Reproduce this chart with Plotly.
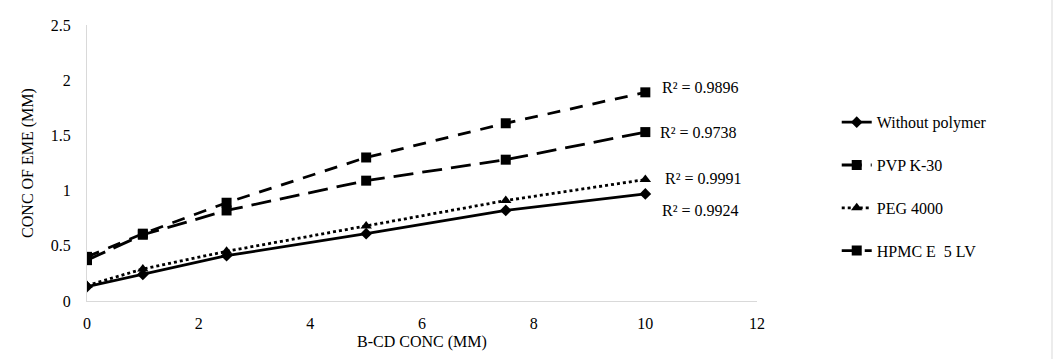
import plotly.graph_objects as go

x_conc = [0, 1, 2.5, 5, 7.5, 10]
without_polymer = [0.13, 0.24, 0.41, 0.61, 0.82, 0.97]
pvp_k30 = [0.37, 0.60, 0.82, 1.09, 1.28, 1.53]
peg_4000 = [0.14, 0.29, 0.45, 0.68, 0.91, 1.10]
hpmc_e5lv = [0.40, 0.61, 0.89, 1.30, 1.61, 1.89]

series_names = ["Without polymer", "PVP K-30", "PEG 4000", "HPMC E  5 LV"]
r2_labels = ["R² = 0.9924", "R² = 0.9738", "R² = 0.9991", "R² = 0.9896"]
r2_y = [0.82, 1.53, 1.11, 1.93]
r2_x = [10.26, 10.22, 10.32, 10.26]

FONT = "Liberation Serif"
series = [without_polymer, pvp_k30, peg_4000, hpmc_e5lv]
dashes = ["solid", "20px,9px", "3px,3px", "13px,10px"]
symbols = ["diamond", "square", "triangle-up", "square"]
msizes = [9, 10, 10, 10]

fig = go.Figure()
for i, (name, ys) in enumerate(zip(series_names, series)):
    fig.add_trace(go.Scatter(
        x=x_conc, y=ys, name=name, mode="lines+markers",
        legendgroup=f"g{i}",
        line=dict(color="black", width=2.8, dash=dashes[i]),
        marker=dict(symbol=symbols[i], size=msizes[i], color="black"),
    ))

for t, xx, yy in zip(r2_labels, r2_x, r2_y):
    fig.add_annotation(x=xx, y=yy, text=t, xref="x", yref="y", showarrow=False,
                       xanchor="left", yanchor="middle",
                       font=dict(family=FONT, size=16, color="black"))

fig.add_shape(type="line", xref="paper", yref="paper",
              x0=(1052 - 87) / 670, x1=(1052 - 87) / 670, y0=-0.3, y1=1.2,
              line=dict(color="#d9d9d9", width=1))

fig.update_layout(
    width=1053, height=359,
    margin=dict(l=87, r=296, t=25, b=58),
    paper_bgcolor="white", plot_bgcolor="white",
    font=dict(family=FONT, size=16, color="black"),
    showlegend=True,
    legend=dict(x=1.119, y=0.709, xanchor="left", yanchor="top",
                tracegroupgap=19, font=dict(family=FONT, size=16, color="black"),
                bgcolor="rgba(0,0,0,0)"),
    xaxis=dict(range=[0, 12], tickvals=[0, 2, 4, 6, 8, 10, 12], showgrid=False,
               zeroline=False, showline=True, linecolor="#d9d9d9", linewidth=1,
               ticks="", ticklabelstandoff=8, automargin=False,
               title=dict(text="B-CD CONC (MM)", font=dict(family=FONT, size=16), standoff=4)),
    yaxis=dict(range=[0, 2.5], tickvals=[0, 0.5, 1, 1.5, 2, 2.5],
               ticktext=["0", "0.5", "1", "1.5", "2", "2.5"], showgrid=False,
               zeroline=False, showline=True, linecolor="#d9d9d9", linewidth=1,
               ticks="", ticklabelstandoff=12, automargin=False,
               title=dict(text="CONC OF EME (MM)", font=dict(family=FONT, size=16), standoff=13)),
)

fig.write_html("out.html", config={"displayModeBar": False},
               post_script="document.body.style.margin='0px';")
